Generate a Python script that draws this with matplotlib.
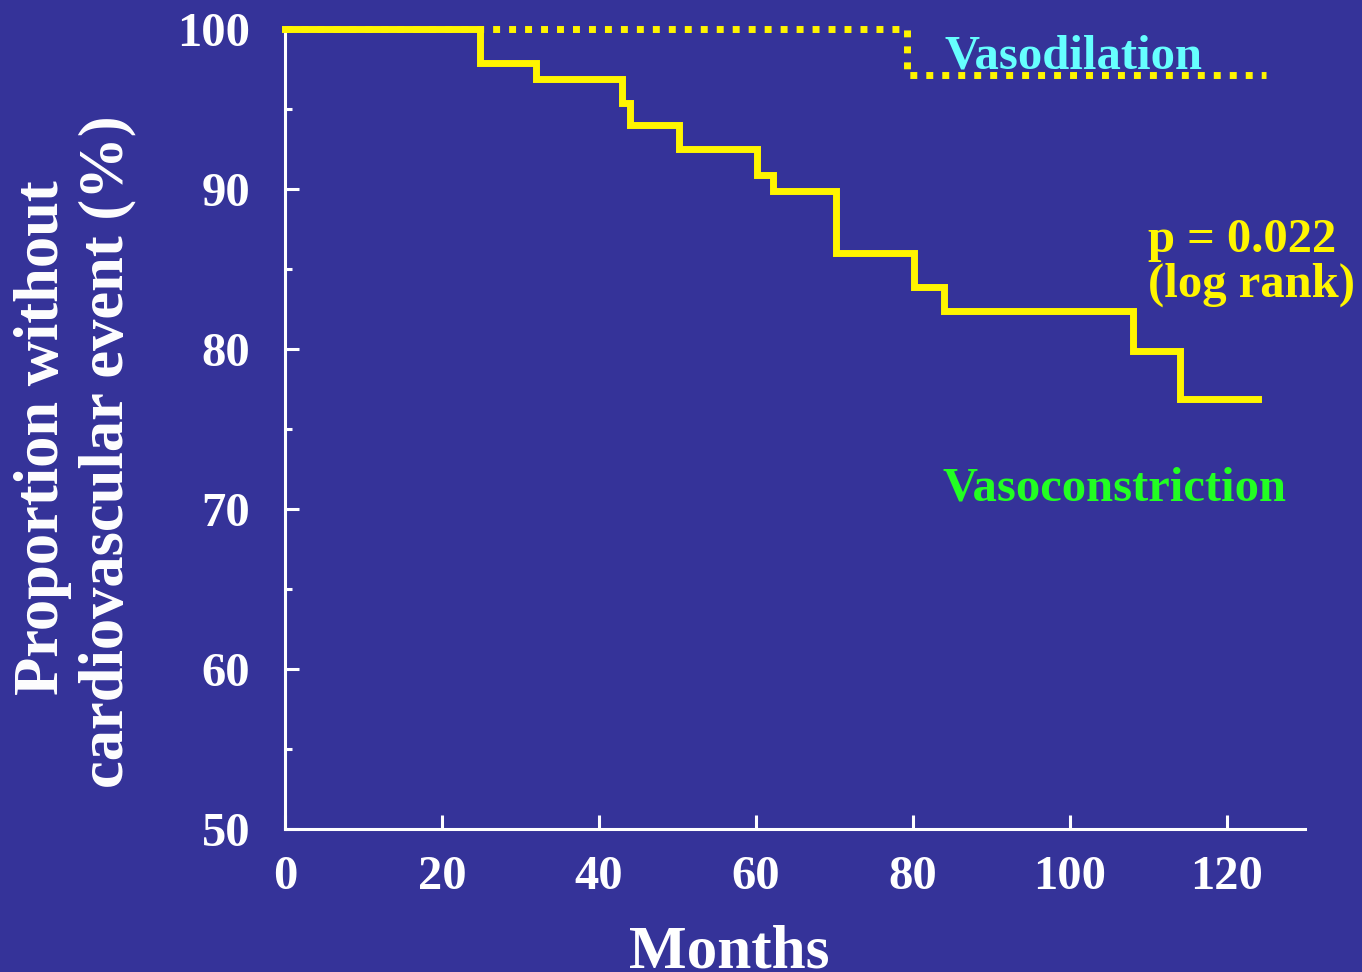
import matplotlib
matplotlib.use("Agg")
import matplotlib.pyplot as plt
from matplotlib.ticker import MultipleLocator

# Kaplan-Meier curves: months of follow-up vs. % free of cardiovascular events
constriction_months = [0, 24.9, 32.0, 42.9, 44.0, 50.2, 60.2, 62.2, 70.2, 80.2, 84.0, 108.1, 114.1, 124.0]
constriction_pct = [100, 97.9, 96.9, 95.4, 94.0, 92.5, 90.9, 89.9, 86.0, 83.9, 82.4, 79.9, 76.9, 76.9]
dilation_months = [0, 79.3, 125.0]
dilation_pct = [100, 97.1, 97.1]

x_ticks = [0, 20, 40, 60, 80, 100, 120]
y_ticks = [50, 60, 70, 80, 90, 100]

BG = "#353399"
YELLOW = "#FFF500"
SERIF = ["Liberation Serif", "DejaVu Serif"]

plt.rcParams["font.family"] = SERIF
plt.rcParams["font.weight"] = "bold"

W, H = 1362, 972
fig = plt.figure(figsize=(W / 100, H / 100), dpi=100, facecolor=BG)
ax = fig.add_axes([285 / W, 143 / H, 1020 / W, 800 / H], facecolor=BG)

ax.plot(dilation_months, dilation_pct, drawstyle="steps-post", color=YELLOW,
        lw=5.0, linestyle=(0, (1, 1.3)), dash_capstyle="butt", clip_on=False, zorder=2)
ax.plot(constriction_months, constriction_pct, drawstyle="steps-post", color=YELLOW,
        lw=5.0, solid_capstyle="projecting", solid_joinstyle="miter", clip_on=False, zorder=3)

ax.set_xlim(0, 130)
ax.set_ylim(50, 100)
ax.set_xticks(x_ticks)
ax.set_yticks(y_ticks)
ax.yaxis.set_minor_locator(MultipleLocator(5))

for side in ("top", "right"):
    ax.spines[side].set_visible(False)
for side in ("left", "bottom"):
    ax.spines[side].set_color("white")
    ax.spines[side].set_linewidth(2.2)

ax.tick_params(which="both", direction="in", color="white", width=2.2,
               labelcolor="white", labelsize=35)
ax.tick_params(which="major", length=10)
ax.tick_params(which="minor", length=5)
ax.tick_params(axis="y", pad=25)
ax.tick_params(axis="x", pad=19)
for lab in ax.get_xticklabels() + ax.get_yticklabels():
    lab.set_fontweight("bold")

ax.text(84.1, 97.56, "Vasodilation", color="#66FFFF", fontsize=35,
        fontweight="bold", ha="left", va="baseline")
ax.text(83.85, 70.56, "Vasoconstriction", color="#22FF22", fontsize=35,
        fontweight="bold", ha="left", va="baseline")
ax.text(110.0, 86.06, "p = 0.022", color=YELLOW, fontsize=35,
        fontweight="bold", ha="left", va="baseline")
ax.text(110.0, 83.25, "(log rank)", color=YELLOW, fontsize=35,
        fontweight="bold", ha="left", va="baseline")

# two-line y-axis title, rotated
fig.text(58 / W, 1 - 438 / H, "Proportion without", rotation=90,
         rotation_mode="anchor", ha="center", va="baseline",
         color="white", fontsize=45, fontweight="bold")
fig.text(122 / W, 1 - 452 / H, "cardiovascular event (%)", rotation=90,
         rotation_mode="anchor", ha="center", va="baseline",
         color="white", fontsize=45, fontweight="bold")
fig.text(729 / W, 1 - 967 / H, "Months", ha="center", va="baseline",
         color="white", fontsize=44, fontweight="bold")

fig.savefig("out.png", dpi=100, facecolor=BG)
